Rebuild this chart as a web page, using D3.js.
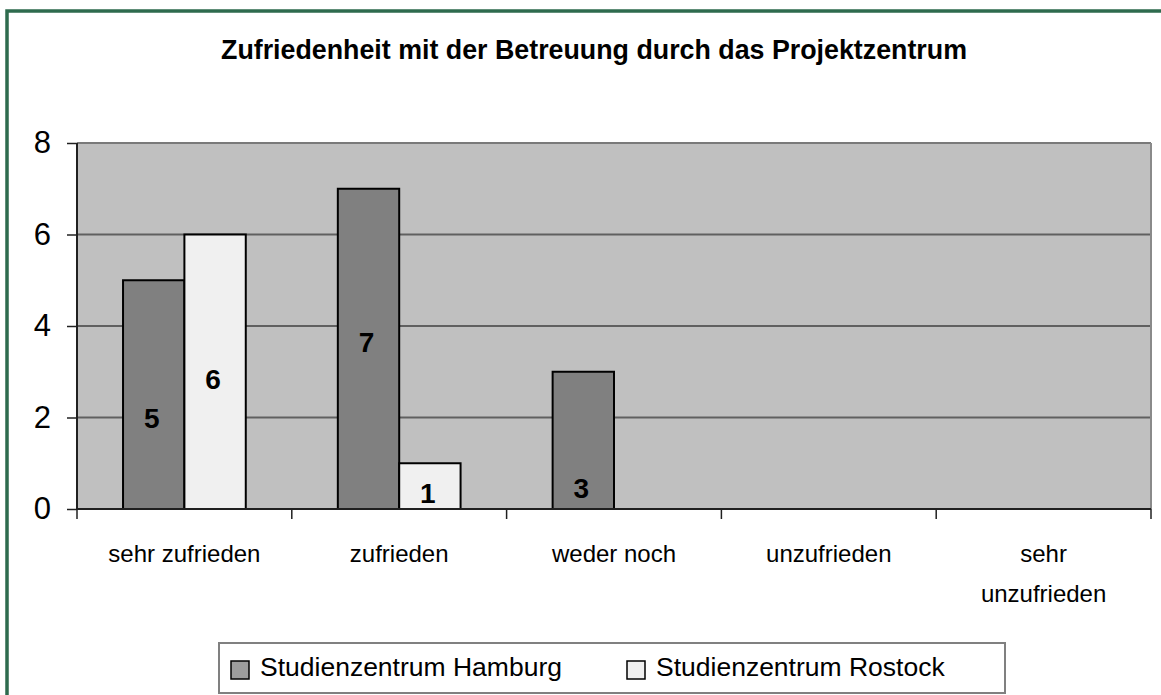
<!DOCTYPE html>
<html>
<head>
<meta charset="utf-8">
<script src="https://cdn.jsdelivr.net/npm/d3@7"></script>
<style>
  body { margin: 0; background: #fff; }
  svg { display: block; font-family: "Liberation Sans", Arial, sans-serif; }
</style>
</head>
<body>
<div id="chart"></div>
<script>
// data
const categories = ["sehr zufrieden", "zufrieden", "weder noch", "unzufrieden", "sehr unzufrieden"];
const seriesNames = ["Studienzentrum Hamburg", "Studienzentrum Rostock"];
const hamburg = [5, 7, 3, 0, 0];
const rostock = [6, 1, 0, 0, 0];
const yTicks = [0, 2, 4, 6, 8];
// where the value labels sit, in value units (they were moved by hand in the original)
const hamburgLabelAt = [2.0, 3.65, 0.47, null, null];
const rostockLabelAt = [2.85, 0.35, null, null, null];

const colors = ["#808080", "#f0f0f0"];
const W = 1161, H = 695;
const plot = { left: 77, top: 143, right: 1151, bottom: 509 };

const svg = d3.select("#chart").append("svg")
  .attr("width", W).attr("height", H);

// green frame
svg.append("rect")
  .attr("x", 7).attr("y", 11).attr("width", W + 10).attr("height", H + 10)
  .attr("fill", "none").attr("stroke", "#2e6b4e").attr("stroke-width", 3.5);

svg.append("text")
  .attr("x", 594).attr("y", 59)
  .attr("text-anchor", "middle")
  .style("font-weight", "bold").style("font-size", "26.8px")
  .text("Zufriedenheit mit der Betreuung durch das Projektzentrum");

const x = d3.scaleBand()
  .domain(categories)
  .range([plot.left, plot.right])
  .padding(0);

// Excel style gap width 150%: 2 bars + 1.5 bar gap
const bw = x.bandwidth();
const x1 = d3.scaleBand()
  .domain(seriesNames)
  .range([bw * 0.75 / 3.5, bw * 2.75 / 3.5])
  .padding(0);

const y = d3.scaleLinear()
  .domain([0, 8])
  .range([plot.bottom, plot.top]);

// plot background
svg.append("rect")
  .attr("x", plot.left).attr("y", plot.top)
  .attr("width", plot.right - plot.left).attr("height", plot.bottom - plot.top)
  .attr("fill", "#c0c0c0");

// gridlines
svg.append("g").selectAll("line")
  .data(yTicks.filter(d => d > 0))
  .enter().append("line")
  .attr("x1", plot.left).attr("x2", plot.right)
  .attr("y1", d => y(d)).attr("y2", d => y(d))
  .attr("stroke", d => d === 8 ? "#7a7a7a" : "#606060")
  .attr("stroke-width", 2);

// right border of the plot
svg.append("line")
  .attr("x1", plot.right).attr("x2", plot.right)
  .attr("y1", plot.top).attr("y2", plot.bottom)
  .attr("stroke", "#8a8a8a").attr("stroke-width", 2);

const series = [hamburg, rostock];
const labelAt = [hamburgLabelAt, rostockLabelAt];

series.forEach((vals, si) => {
  const g = svg.append("g");
  g.selectAll("rect")
    .data(vals.map((v, i) => ({ cat: categories[i], v })).filter(d => d.v > 0))
    .enter().append("rect")
    .attr("x", d => x(d.cat) + x1(seriesNames[si]))
    .attr("y", d => y(d.v))
    .attr("width", x1.bandwidth())
    .attr("height", d => y(0) - y(d.v))
    .attr("fill", colors[si])
    .attr("stroke", "#000").attr("stroke-width", 2);

  g.selectAll("text")
    .data(vals.map((v, i) => ({ cat: categories[i], v, at: labelAt[si][i] })).filter(d => d.v > 0))
    .enter().append("text")
    .attr("x", d => x(d.cat) + x1(seriesNames[si]) + x1.bandwidth() / 2 - 2)
    .attr("y", d => y(d.at))
    .attr("dy", "0.36em")
    .attr("text-anchor", "middle")
    .style("font-weight", "bold").style("font-size", "28px")
    .text(d => d.v);
});

// y axis
const yAxis = svg.append("g")
  .attr("transform", `translate(${plot.left},0)`)
  .call(d3.axisLeft(y).tickValues(yTicks).tickSize(10).tickPadding(16));
yAxis.select(".domain").attr("stroke", "#202020").attr("stroke-width", 2)
  .attr("d", `M0,${plot.top}V${plot.bottom}`);
yAxis.selectAll(".tick line").attr("stroke", "#202020").attr("stroke-width", 1.5);
yAxis.selectAll(".tick text")
  .style("font-size", "31px").attr("fill", "#000")
  .attr("font-family", null);

// x axis with ticks between categories
const xAxis = svg.append("g")
  .attr("transform", `translate(0,${plot.bottom})`);
xAxis.append("line")
  .attr("x1", plot.left).attr("x2", plot.right)
  .attr("stroke", "#202020").attr("stroke-width", 2);
xAxis.selectAll("line.tk")
  .data(categories.concat(["end"]))
  .enter().append("line").attr("class", "tk")
  .attr("x1", (d, i) => i < categories.length ? x(d) : plot.right)
  .attr("x2", (d, i) => i < categories.length ? x(d) : plot.right)
  .attr("y1", 0).attr("y2", 10)
  .attr("stroke", "#202020").attr("stroke-width", 1.5);

// category labels (Excel wraps the last one)
const catLines = { "sehr unzufrieden": ["sehr", "unzufrieden"] };
xAxis.selectAll("text.cat")
  .data(categories)
  .enter().append("text").attr("class", "cat")
  .attr("x", d => x(d) + bw / 2)
  .attr("y", 53)
  .attr("text-anchor", "middle")
  .style("font-size", "24px")
  .each(function (d) {
    const lines = catLines[d] || [d];
    d3.select(this).selectAll("tspan")
      .data(lines).enter().append("tspan")
      .attr("x", x(d) + bw / 2)
      .attr("dy", (l, i) => i === 0 ? 0 : 40)
      .text(l => l);
  });

// legend
const legend = svg.append("g");
legend.append("rect")
  .attr("x", 219).attr("y", 643).attr("width", 786).attr("height", 50)
  .attr("fill", "#fff").attr("stroke", "#808080").attr("stroke-width", 2);
const legX = [231, 627];
seriesNames.forEach((name, i) => {
  legend.append("rect")
    .attr("x", legX[i]).attr("y", 661).attr("width", 18).attr("height", 18)
    .attr("fill", i === 0 ? "#9c9c9c" : colors[i]).attr("stroke", "#000").attr("stroke-width", 1.5);
  legend.append("text")
    .attr("x", legX[i] + 29).attr("y", 676)
    .style("font-size", "26.5px")
    .text(name);
});
</script>
</body>
</html>
